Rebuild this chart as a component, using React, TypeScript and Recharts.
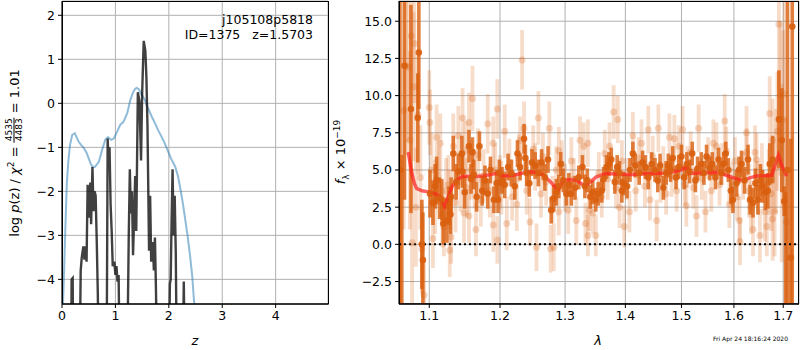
import React from 'react';
import { ComposedChart, Line, Scatter, ErrorBar, XAxis, YAxis, CartesianGrid, ReferenceLine } from 'recharts';

const FONT = 'DejaVu Sans';

// left panel: log p(z) and prior
const priorCurve: [number, number][] = [
  [0, -5.2], [0.03, -4.17], [0.06, -2.95], [0.09, -1.82], [0.12, -1.3], [0.15, -0.95], [0.19, -0.72], [0.24, -0.68],
  [0.31, -0.87], [0.36, -0.95], [0.41, -1.02], [0.46, -1.12], [0.5, -1.25], [0.54, -1.38], [0.57, -1.44], [0.62, -1.44],
  [0.69, -1.33], [0.75, -1.06], [0.81, -0.83], [0.86, -0.77], [0.92, -0.83], [0.97, -0.8], [1.03, -0.65], [1.09, -0.49],
  [1.15, -0.42], [1.22, -0.23], [1.28, 0.08], [1.33, 0.25], [1.37, 0.33], [1.4, 0.35], [1.44, 0.32], [1.48, 0.22],
  [1.55, 0.08], [1.6, -0.08], [1.68, -0.3], [1.74, -0.45], [1.8, -0.61], [1.86, -0.75], [1.92, -0.9], [1.96, -1.02],
  [2.04, -1.25], [2.12, -1.44], [2.17, -1.65], [2.21, -1.9], [2.26, -2.25], [2.3, -2.58], [2.35, -3.0], [2.4, -3.49],
  [2.44, -3.95], [2.47, -4.47], [2.52, -5.1], [2.56, -5.6],
];

const pzCurve: [number, number][] = [
  [0, -6], [0.17, -6], [0.18, -4.0], [0.2, -3.97], [0.21, -6],
  [0.33, -6], [0.35, -3.8], [0.37, -3.5], [0.4, -3.25], [0.42, -3.55], [0.44, -3.25], [0.46, -3.6], [0.48, -1.85],
  [0.5, -2.2], [0.51, -2.6], [0.53, -1.8], [0.545, -2.75], [0.57, -1.45], [0.59, -2.45], [0.61, -2.0], [0.63, -2.1],
  [0.65, -3.1], [0.67, -4.3], [0.69, -6],
  [0.835, -6], [0.855, -0.8], [0.87, -1.3], [0.89, -1.0], [0.91, -2.3], [0.93, -2.9], [0.95, -3.7], [0.98, -3.6],
  [1.0, -3.9], [1.02, -3.7], [1.04, -4.05], [1.06, -3.9], [1.08, -6],
  [1.22, -6], [1.25, -3.0], [1.27, -1.5], [1.29, -2.5], [1.31, -2.0], [1.33, -3.45], [1.35, -2.6], [1.37, -1.65],
  [1.39, -2.9], [1.42, 0.25], [1.45, 0.05], [1.48, -1.3], [1.5, 0.2], [1.53, 1.42], [1.56, 1.2], [1.58, 0.6],
  [1.6, -0.5], [1.63, -3.35], [1.65, -2.1], [1.67, -3.6], [1.7, -3.15], [1.72, -3.8], [1.74, -3.05], [1.76, -4.3], [1.78, -6],
  [2.0, -6], [2.02, -4.1], [2.035, -4.0], [2.05, -2.8], [2.07, -1.5], [2.09, -3.0], [2.11, -2.1], [2.13, -3.4], [2.15, -6],
  [2.26, -6], [2.28, -4.05], [2.3, -6],
];

const zTicks = [0, 1, 2, 3, 4];
const logpTicks = [-4, -3, -2, -1, 0, 1, 2];

// right panel: spectrum (lambda, flux, err)
const lightPoints: [number, number, number][] = [
  [1.066, 9.0, 8], [1.069, 12.0, 6], [1.072, 11.9, 5], [1.074, 7.0, 6], [1.076, 14.0, 4], [1.077, 0.1, 5],
  [1.079, 10.6, 5], [1.08, 13.5, 4], [1.082, 2.5, 4], [1.085, 8.7, 4], [1.088, 4.5, 3.5], [1.09, -0.3, 3], [1.093, -3.4, 2.5],
  [1.1, 9.2, 2.5], [1.101, 8.2, 2.2], [1.103, 5.0, 2.5], [1.105, 0.4, 2.0], [1.108, 3.2, 2.5], [1.11, 7.2, 2.2],
  [1.113, 4.6, 2.0], [1.115, 6.8, 2.0], [1.118, 2.0, 2.2], [1.12, 1.2, 2.0], [1.123, 3.6, 2.2], [1.126, 4.0, 2.0],
  [1.128, 3.0, 2.0], [1.128, -0.4, 1.8], [1.13, 0.5, 1.8], [1.133, 6.6, 2.2], [1.136, 2.8, 2.0], [1.14, 7.3, 2.0],
  [1.143, 4.2, 2.0], [1.146, 8.5, 2.0], [1.148, 2.1, 2.0], [1.15, 6.3, 2.0], [1.152, 3.8, 2.0], [1.155, 8.2, 2.0],
  [1.155, 1.9, 1.8], [1.158, 5.0, 2.0], [1.16, 9.8, 2.2], [1.163, 4.4, 2.0], [1.165, 1.0, 1.8], [1.168, 6.0, 1.8],
  [1.172, 3.0, 1.8], [1.176, 4.6, 1.8], [1.182, 8.1, 2.0], [1.185, 3.6, 1.8], [1.19, 6.8, 1.8], [1.19, 1.3, 1.8],
  [1.193, 5.0, 1.8], [1.196, 9.1, 2.0], [1.196, 0.3, 1.6], [1.2, 4.2, 1.8], [1.202, 3.8, 1.8], [1.207, 7.6, 1.8],
  [1.21, 1.4, 1.8], [1.214, 5.5, 1.6], [1.218, 3.2, 1.6], [1.225, 2.7, 1.8], [1.228, 5.8, 1.6], [1.23, 7.0, 1.6],
  [1.233, 12.4, 2.0], [1.236, 7.8, 1.8], [1.24, 3.6, 1.6], [1.245, 1.5, 1.6], [1.25, 6.4, 1.6], [1.253, 5.2, 1.6],
  [1.255, -0.2, 1.6], [1.258, 8.5, 1.8], [1.262, 3.4, 1.6], [1.265, 5.9, 1.6], [1.27, 4.2, 1.6], [1.275, 7.8, 1.8],
  [1.277, -0.3, 1.6], [1.28, 3.0, 1.6], [1.282, -0.2, 1.6], [1.286, 5.0, 1.6], [1.29, 6.3, 1.6], [1.29, 2.2, 1.6],
  [1.295, 5.4, 1.6], [1.3, 3.8, 1.6], [1.305, 2.3, 1.6], [1.31, 5.6, 1.6], [1.314, 4.4, 1.4], [1.318, 1.6, 1.6],
  [1.324, 7.0, 1.6], [1.33, 6.6, 1.6], [1.333, 1.4, 1.4], [1.337, 6.8, 1.6], [1.337, 0.6, 1.4], [1.339, 2.3, 1.4],
  [1.345, 2.1, 1.4], [1.35, 0.6, 1.4], [1.355, 4.8, 1.4], [1.36, 3.2, 1.4], [1.365, 6.1, 1.6], [1.37, 4.4, 1.4],
  [1.373, 6.6, 1.6], [1.38, 8.9, 1.8], [1.384, 3.8, 1.4], [1.387, 8.4, 1.6], [1.39, 2.5, 1.4], [1.394, 5.6, 1.4],
  [1.398, 1.2, 1.4], [1.402, 4.4, 1.4], [1.407, 2.2, 1.4], [1.413, 7.3, 1.6], [1.418, 3.6, 1.4], [1.423, 5.8, 1.4],
  [1.428, 6.8, 1.6], [1.434, 3.9, 1.4], [1.44, 7.7, 1.6], [1.443, 3.0, 1.4], [1.448, 5.9, 1.4], [1.455, 1.6, 1.4],
  [1.458, 7.8, 1.6], [1.462, 4.2, 1.4], [1.467, 5.2, 1.4], [1.472, 3.4, 1.4], [1.478, 7.2, 1.6], [1.482, 4.6, 1.4],
  [1.487, 7.1, 1.6], [1.491, 3.6, 1.4], [1.495, 6.6, 1.4], [1.502, 7.7, 1.6], [1.506, 4.0, 1.4], [1.509, 2.6, 1.4],
  [1.511, 5.2, 1.4], [1.517, 6.2, 1.4], [1.522, 3.8, 1.4], [1.528, 1.9, 1.4], [1.532, 7.8, 1.6], [1.538, 4.4, 1.4],
  [1.545, 2.2, 1.4], [1.55, 5.8, 1.4], [1.556, 3.6, 1.4], [1.56, 6.8, 1.6], [1.566, 6.6, 1.6], [1.572, 4.0, 1.4],
  [1.577, 5.4, 1.4], [1.582, 8.3, 1.8], [1.585, 6.3, 1.6], [1.591, 2.7, 1.6], [1.597, 3.9, 1.6], [1.602, 5.6, 1.6],
  [1.606, 3.2, 1.6], [1.611, 1.6, 1.6], [1.612, 0.2, 1.6], [1.618, 4.6, 1.6], [1.625, 7.5, 1.8], [1.625, 6.2, 1.6],
  [1.63, 3.6, 1.8], [1.634, 2.5, 1.8], [1.638, 1.0, 1.8], [1.642, 6.2, 1.8], [1.645, 5.7, 1.8], [1.648, 3.8, 1.8],
  [1.652, 0.6, 1.8], [1.656, 4.8, 2.0], [1.662, 2.2, 2.0], [1.666, 1.2, 2.0], [1.67, 4.2, 2.2], [1.672, 8.8, 2.5],
  [1.675, 3.4, 2.5], [1.678, 7.0, 2.8], [1.678, 1.7, 2.8], [1.682, 2.2, 3.0], [1.685, 5.6, 3.5], [1.688, 7.6, 4.0],
  [1.691, 14.8, 4.5], [1.694, 10.0, 5.0], [1.697, 4.8, 6.0], [1.7, 8.4, 6.0], [1.703, 10.1, 7.0], [1.706, 1.5, 7.0],
];

const darkPoints: [number, number, number][] = [
  [1.061, 5, 20], [1.0635, -5, 11], [1.067, 12, 9], [1.0755, 9.1, 7], [1.0845, 8.5, 3], [1.086, 12.9, 3.8],
  [1.09, 0.0, 3.0], [1.0914, -1.05, 3.2],
  [1.101, 3.4, 1.6], [1.105, 2.8, 1.5], [1.108, 3.9, 1.5], [1.11, 4.3, 1.6], [1.114, 3.1, 1.4], [1.117, 3.0, 1.4],
  [1.119, 1.4, 1.4], [1.124, 1.6, 1.5], [1.127, 2.6, 1.3], [1.129, 2.0, 1.3], [1.13, 3.2, 1.3], [1.133, 6.1, 1.2],
  [1.137, 4.2, 1.2], [1.14, 4.9, 1.2], [1.145, 6.1, 1.2], [1.146, 4.9, 1.1], [1.149, 3.5, 1.1], [1.155, 6.6, 1.1],
  [1.158, 4.4, 1.0], [1.16, 6.2, 1.0], [1.162, 4.7, 1.0], [1.166, 3.2, 1.0], [1.17, 6.6, 1.0], [1.174, 3.6, 1.0],
  [1.178, 4.3, 1.0], [1.182, 3.4, 1.0], [1.186, 5.0, 0.9], [1.191, 3.0, 0.9], [1.195, 4.1, 0.9], [1.197, 3.0, 0.9],
  [1.199, 4.8, 0.9], [1.203, 4.3, 0.9], [1.207, 4.0, 0.9], [1.212, 5.2, 0.9], [1.217, 4.8, 0.9], [1.222, 3.9, 0.9],
  [1.226, 6.1, 0.9], [1.23, 5.2, 0.9], [1.236, 7.1, 1.0], [1.238, 5.8, 0.9], [1.24, 4.8, 0.9], [1.244, 4.1, 0.9],
  [1.248, 5.5, 0.9], [1.253, 5.3, 0.9], [1.258, 4.8, 0.9], [1.263, 5.5, 0.9], [1.268, 4.5, 0.9], [1.273, 5.7, 0.9],
  [1.278, 2.3, 0.9], [1.282, 3.1, 0.9], [1.286, 3.5, 0.9], [1.29, 3.9, 0.8], [1.293, 5.4, 0.8], [1.297, 4.3, 0.8],
  [1.302, 3.4, 0.8], [1.306, 4.0, 0.8], [1.31, 3.4, 0.8], [1.316, 3.8, 0.8], [1.322, 4.5, 0.8], [1.328, 5.2, 0.8],
  [1.332, 3.9, 0.8], [1.336, 4.3, 0.8], [1.341, 3.2, 0.8], [1.345, 3.5, 0.8], [1.35, 3.0, 0.8], [1.354, 3.4, 0.8],
  [1.36, 3.6, 0.8], [1.363, 4.4, 0.8], [1.368, 5.2, 0.8], [1.372, 5.4, 0.8], [1.376, 5.7, 0.8], [1.382, 4.2, 0.8],
  [1.386, 5.2, 0.8], [1.39, 4.8, 0.8], [1.394, 3.6, 0.8], [1.397, 4.1, 0.8], [1.403, 3.9, 0.8], [1.408, 5.0, 0.8],
  [1.413, 6.1, 0.8], [1.417, 5.3, 0.8], [1.424, 4.8, 0.8], [1.43, 5.5, 0.8], [1.435, 5.2, 0.8], [1.44, 4.5, 0.8],
  [1.446, 5.4, 0.8], [1.452, 5.0, 0.8], [1.457, 4.3, 0.8], [1.461, 5.3, 0.8], [1.467, 3.8, 0.8], [1.472, 4.8, 0.8],
  [1.476, 5.3, 0.8], [1.48, 5.0, 0.8], [1.484, 5.8, 0.8], [1.49, 4.5, 0.8], [1.495, 5.2, 0.8], [1.5, 5.9, 0.8],
  [1.505, 4.5, 0.8], [1.51, 5.4, 0.8], [1.515, 4.9, 0.8], [1.52, 6.1, 0.8], [1.526, 4.3, 0.8], [1.53, 5.1, 0.8],
  [1.537, 5.4, 0.8], [1.542, 4.8, 0.8], [1.547, 5.9, 0.8], [1.553, 5.1, 0.8], [1.558, 5.4, 0.8], [1.564, 4.5, 0.8],
  [1.57, 5.7, 0.8], [1.575, 4.8, 0.8], [1.58, 5.4, 0.8], [1.584, 6.1, 0.8], [1.589, 5.0, 0.8], [1.594, 3.6, 0.9],
  [1.598, 3.0, 0.9], [1.605, 4.1, 0.9], [1.61, 5.0, 0.9], [1.615, 5.4, 0.9], [1.621, 4.3, 0.9], [1.628, 5.7, 1.0],
  [1.632, 3.0, 1.0], [1.638, 2.8, 1.0], [1.643, 4.1, 1.0], [1.648, 3.0, 1.0], [1.653, 4.3, 1.1], [1.657, 3.9, 1.1],
  [1.663, 3.5, 1.2], [1.668, 3.6, 1.2], [1.672, 5.4, 1.4], [1.678, 5.7, 1.6],
  [1.691, 8.4, 3.3], [1.697, 7.0, 3.5], [1.702, 2.9, 1.0], [1.705, -4.5, 8], [1.709, 5, 20], [1.716, -0.9, 8], [1.719, 14.65, 20],
];

const modelCurve: [number, number][] = [
  [1.072, 6.2], [1.0765, 4.8], [1.08, 4.1], [1.083, 3.76], [1.09, 3.6], [1.099, 3.53], [1.108, 3.4], [1.115, 3.2],
  [1.121, 2.57], [1.126, 3.2], [1.131, 3.87], [1.139, 4.35], [1.147, 4.6], [1.16, 4.55], [1.175, 4.6], [1.195, 4.77],
  [1.205, 4.6], [1.22, 4.65], [1.235, 4.8], [1.245, 4.87], [1.256, 4.82], [1.266, 4.64], [1.277, 4.2], [1.289, 3.64],
  [1.297, 4.31], [1.31, 4.35], [1.319, 4.3], [1.332, 3.91], [1.341, 4.2], [1.351, 4.54], [1.368, 4.77], [1.39, 4.72],
  [1.41, 4.7], [1.44, 4.75], [1.467, 4.8], [1.485, 4.88], [1.497, 4.98], [1.51, 5.2], [1.515, 4.77], [1.53, 4.8],
  [1.56, 4.85], [1.575, 4.75], [1.592, 4.56], [1.605, 4.4], [1.618, 4.29], [1.63, 4.45], [1.645, 4.6], [1.66, 4.62],
  [1.676, 4.64], [1.683, 5.3], [1.69, 5.99], [1.697, 5.3], [1.707, 4.6],
];

const lamTicks = [1.1, 1.2, 1.3, 1.4, 1.5, 1.6, 1.7];
const fluxTicks = [-2.5, 0, 2.5, 5, 7.5, 10, 12.5, 15];

const minus = (s: string) => s.replace('-', '\u2212');
const tickStyle = { fill: '#000', fontSize: 12.5, fontFamily: FONT };

const toXY = (arr: [number, number][]) => arr.map(([x, y]) => ({ x, y }));
const toXYE = (arr: [number, number, number][]) => arr.map(([x, y, e]) => ({ x, y, e }));

const ORANGE = '217,95,14';

function SpecAxes() {
  return [
    <XAxis key="x" dataKey="x" type="number" scale="log" domain={[1.0598, 1.7333]} ticks={lamTicks} allowDataOverflow
      height={46} tick={tickStyle} tickSize={4} tickMargin={3} stroke="#000" tickFormatter={(v: number) => v.toFixed(1)} />,
    <YAxis key="y" type="number" domain={[-4.01, 16.36]} ticks={fluxTicks} allowDataOverflow width={69}
      tick={tickStyle} tickSize={4} tickMargin={3} stroke="#000" tickFormatter={(v: number) => minus(v.toFixed(1))} />,
  ];
}

export default function App() {
  const specMargin = { top: 1, right: 1, bottom: 0, left: 0 };
  return (
    <div style={{ position: 'absolute', left: 0, top: 0, width: 800, height: 350, background: '#fff', fontFamily: FONT }}>
      <div style={{ position: 'absolute', left: 0, top: 0 }}>
        <ComposedChart width={340} height={350} margin={{ top: 1, right: 12, bottom: 0, left: 0 }}>
          <CartesianGrid stroke="#b0b0b0" strokeWidth={1} />
          <XAxis dataKey="x" type="number" domain={[0, 4.98]} ticks={zTicks} allowDataOverflow height={46}
            tick={tickStyle} tickSize={4} tickMargin={3} stroke="#000" />
          <YAxis type="number" domain={[-4.56, 2.325]} ticks={logpTicks} allowDataOverflow width={62}
            tick={tickStyle} tickSize={4} tickMargin={3} stroke="#000" tickFormatter={(v: number) => minus(String(v))} />
          <Line data={toXY(priorCurve)} dataKey="y" stroke="#1f77b4" strokeOpacity={0.5} strokeWidth={2}
            dot={false} isAnimationActive={false} />
          <Line data={toXY(pzCurve)} dataKey="y" stroke="#000" strokeOpacity={0.75} strokeWidth={2.4}
            dot={false} isAnimationActive={false} />
        </ComposedChart>
      </div>

      {/* spectrum: axes + grid layer */}
      <div style={{ position: 'absolute', left: 330, top: 0 }}>
        <ComposedChart width={470} height={350} margin={specMargin} data={[{ x: 1.3, y: 0 }]}>
          <CartesianGrid stroke="#b0b0b0" strokeWidth={1} />
          {SpecAxes()}
        </ComposedChart>
      </div>

      {/* spectrum: data layer, clipped to the plot area */}
      <div style={{ position: 'absolute', left: 330, top: 0, clipPath: 'inset(1px 1px 46px 69px)' }}>
        <ComposedChart width={470} height={350} margin={specMargin}>
          {SpecAxes()}
          <Scatter data={toXYE(lightPoints)} dataKey="y" isAnimationActive={false}
            shape={(p: any) => <circle cx={p.cx} cy={p.cy} r={3.5} fill={`rgba(${ORANGE},0.25)`} />}>
            <ErrorBar dataKey="e" direction="y" width={0} stroke={`rgba(${ORANGE},0.22)`} strokeWidth={3.8} />
          </Scatter>
          <Scatter data={toXYE(darkPoints)} dataKey="y" isAnimationActive={false}
            shape={(p: any) => <circle cx={p.cx} cy={p.cy} r={3.3} fill={`rgba(${ORANGE},0.9)`} />}>
            <ErrorBar dataKey="e" direction="y" width={0} stroke={`rgba(${ORANGE},0.8)`} strokeWidth={3.6} />
          </Scatter>
          <ReferenceLine y={0} stroke="#000" strokeWidth={2} strokeDasharray="2 3" />
          <Line data={toXY(modelCurve)} dataKey="y" stroke="#ff2020" strokeOpacity={0.7} strokeWidth={3.5}
            dot={false} isAnimationActive={false} />
        </ComposedChart>
      </div>

      <svg width={800} height={350} style={{ position: 'absolute', left: 0, top: 0, pointerEvents: 'none' }}>
        <rect x={62.5} y={1.5} width={266} height={302.5} fill="none" stroke="#000" strokeWidth={1} />
        <rect x={399.5} y={1.5} width={399} height={302.5} fill="none" stroke="#000" strokeWidth={1} />
        <text x={313} y={24} textAnchor="end" fontSize={12.5} fontFamily={FONT}>j105108p5818</text>
        <text x={313} y={39} textAnchor="end" fontSize={12.5} fontFamily={FONT} xmlSpace="preserve">ID=1375   z=1.5703</text>
        <text x={195} y={345} textAnchor="middle" fontSize={13} fontStyle="italic" fontFamily={FONT}>z</text>
        <text x={598} y={345} textAnchor="middle" fontSize={13} fontStyle="italic" fontFamily={FONT}>λ</text>
        <text x={788} y={341} textAnchor="end" fontSize={6} fontFamily={FONT}>Fri Apr 24 18:16:24 2020</text>
      </svg>

      <div style={{ position: 'absolute', left: 14, top: 153, transform: 'translate(-50%, -50%) rotate(-90deg)',
        whiteSpace: 'nowrap', display: 'flex', alignItems: 'center', fontSize: 13, lineHeight: 1 }}>
        <span>log&nbsp;<i>p</i>(z)&nbsp;/&nbsp;<i>χ</i><sup style={{ fontSize: 9 }}>2</sup>&nbsp;=&nbsp;</span>
        <span style={{ display: 'inline-flex', flexDirection: 'column', fontSize: 9, textAlign: 'center' }}>
          <span style={{ borderBottom: '1px solid #000', padding: '0 1px' }}>4535</span>
          <span style={{ padding: '0 1px' }}>4483</span>
        </span>
        <span>&nbsp;=&nbsp;1.01</span>
      </div>

      <div style={{ position: 'absolute', left: 342, top: 152, transform: 'translate(-50%, -50%) rotate(-90deg)',
        whiteSpace: 'nowrap', fontSize: 13, lineHeight: 1 }}>
        <i>f</i><sub style={{ fontSize: 9 }}>λ</sub>&nbsp;×&nbsp;10<sup style={{ fontSize: 9 }}>−19</sup>
      </div>
    </div>
  );
}
